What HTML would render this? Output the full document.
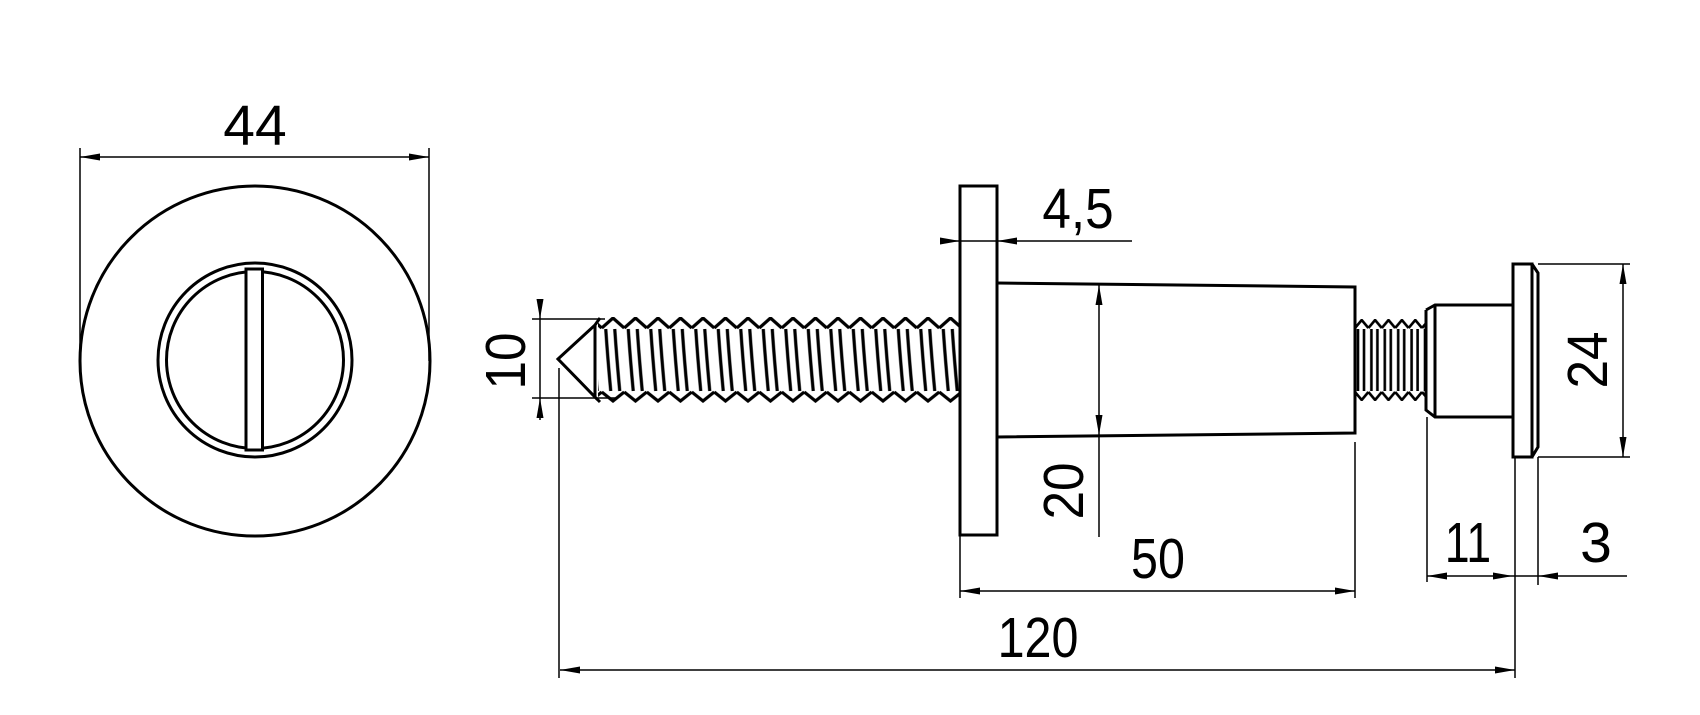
<!DOCTYPE html>
<html><head><meta charset="utf-8"><style>
html,body{margin:0;padding:0;background:#fff;}
svg{display:block;}
text{font-family:"Liberation Sans",sans-serif;font-size:57px;fill:#000;}
</style></head><body>
<svg width="1700" height="715" viewBox="0 0 1700 715" xmlns="http://www.w3.org/2000/svg">
<defs>
<marker id="a" viewBox="0 0 20 8" refX="20" refY="4" markerWidth="20" markerHeight="8" markerUnits="userSpaceOnUse" orient="auto-start-reverse">
<path d="M0,0.5 L20,4 L0,7.5 Z" fill="#000"/>
</marker>
<pattern id="th" patternUnits="userSpaceOnUse" x="601.75" y="317" width="22.5" height="86">
<path d="M0,11 L11.25,1 L22.5,11 M0,75 L11.25,84 L22.5,75 M4,12 Q6,42 9,74 M13,12 Q15,42 18,74" fill="none" stroke="#000" stroke-width="3.2"/>
</pattern>
<pattern id="th2" patternUnits="userSpaceOnUse" x="1355" y="319" width="13.4" height="82">
<path d="M0,9 L6.7,1 L13.4,9 M0,73 L6.7,81 L13.4,73 M3,10 L3,72 M9,10 L9,72" fill="none" stroke="#000" stroke-width="2.6"/>
</pattern>
</defs>

<g fill="none" stroke="#000">
<circle cx="255" cy="361" r="175" stroke-width="3"/>
<circle cx="255" cy="360" r="97" stroke-width="3"/>
<circle cx="255" cy="360" r="88.5" stroke-width="3"/>
<rect x="246" y="269" width="16.5" height="181" fill="#fff" stroke-width="3"/>
<line x1="80" y1="148" x2="80" y2="361" stroke-width="1.5"/>
<line x1="429" y1="148" x2="429" y2="361" stroke-width="1.5"/>
<line x1="80" y1="157" x2="429" y2="157" stroke-width="1.5" marker-start="url(#a)" marker-end="url(#a)"/>

<rect x="598" y="317" width="362" height="86" fill="url(#th)" stroke="none"/>
<path d="M558,359 L595,325 L595,397 Z M595,325 L600,318 M595,397 L600,402" stroke-width="3"/>
<rect x="960" y="186" width="37" height="349" stroke-width="3"/>
<path d="M997,283 L1355,287 L1355,433 L997,437" stroke-width="3"/>
<rect x="1355" y="319" width="71" height="82" fill="url(#th2)" stroke="none"/>
<path d="M1426,310 L1435,305 L1513,305 M1426,310 L1426,410 L1435,417 L1513,417 M1435,305 L1435,417" stroke-width="3"/>
<rect x="1513" y="264" width="19" height="193" stroke-width="3"/>
<path d="M1532,264 L1538,273 L1538,447 L1532,457" stroke-width="3"/>

<g stroke-width="1.5">
<line x1="532" y1="319" x2="605" y2="319"/>
<line x1="532" y1="398" x2="617" y2="398"/>
<line x1="540" y1="300" x2="540" y2="319" marker-end="url(#a)"/>
<line x1="540" y1="420" x2="540" y2="398" marker-end="url(#a)"/>
<line x1="540" y1="319" x2="540" y2="398"/>
<line x1="940" y1="241" x2="960" y2="241" marker-end="url(#a)"/>
<line x1="1132" y1="241" x2="997" y2="241" marker-end="url(#a)"/>
<line x1="960" y1="241" x2="997" y2="241"/>
<line x1="1099" y1="285" x2="1099" y2="435" marker-start="url(#a)" marker-end="url(#a)"/>
<line x1="1099" y1="435" x2="1099" y2="537"/>
<line x1="960" y1="535" x2="960" y2="598"/>
<line x1="1355" y1="442" x2="1355" y2="598"/>
<line x1="960" y1="591" x2="1355" y2="591" marker-start="url(#a)" marker-end="url(#a)"/>
<line x1="559" y1="368" x2="559" y2="678"/>
<line x1="1515" y1="457" x2="1515" y2="678"/>
<line x1="560" y1="670" x2="1515" y2="670" marker-start="url(#a)" marker-end="url(#a)"/>
<line x1="1538" y1="264" x2="1630" y2="264"/>
<line x1="1538" y1="457" x2="1630" y2="457"/>
<line x1="1623" y1="264" x2="1623" y2="457" marker-start="url(#a)" marker-end="url(#a)"/>
<line x1="1427" y1="417" x2="1427" y2="582"/>
<line x1="1538" y1="457" x2="1538" y2="585"/>
<line x1="1427" y1="576" x2="1513" y2="576" marker-start="url(#a)" marker-end="url(#a)"/>
<line x1="1627" y1="576" x2="1538" y2="576" marker-end="url(#a)"/>
<line x1="1513" y1="576" x2="1538" y2="576"/>
</g>
</g>

<text x="255" y="145" text-anchor="middle">44</text>
<text x="1078" y="228" text-anchor="middle" transform="translate(1078,0) scale(0.9,1) translate(-1078,0)">4,5</text>
<text x="1158" y="578" text-anchor="middle" transform="translate(1158,0) scale(0.85,1) translate(-1158,0)">50</text>
<text x="1038" y="657" text-anchor="middle" transform="translate(1038,0) scale(0.85,1) translate(-1038,0)">120</text>
<text x="1468" y="562" text-anchor="middle" transform="translate(1468,0) scale(0.78,1) translate(-1468,0)">11</text>
<text x="1596" y="562" text-anchor="middle">3</text>
<text transform="translate(525,361) rotate(-90) scale(0.9,1)" text-anchor="middle" y="0">10</text>
<text transform="translate(1083,491) rotate(-90) scale(0.9,1)" text-anchor="middle" y="0">20</text>
<text transform="translate(1607,360) rotate(-90) scale(0.9,1)" text-anchor="middle" y="0">24</text>
</svg>
</body></html>
